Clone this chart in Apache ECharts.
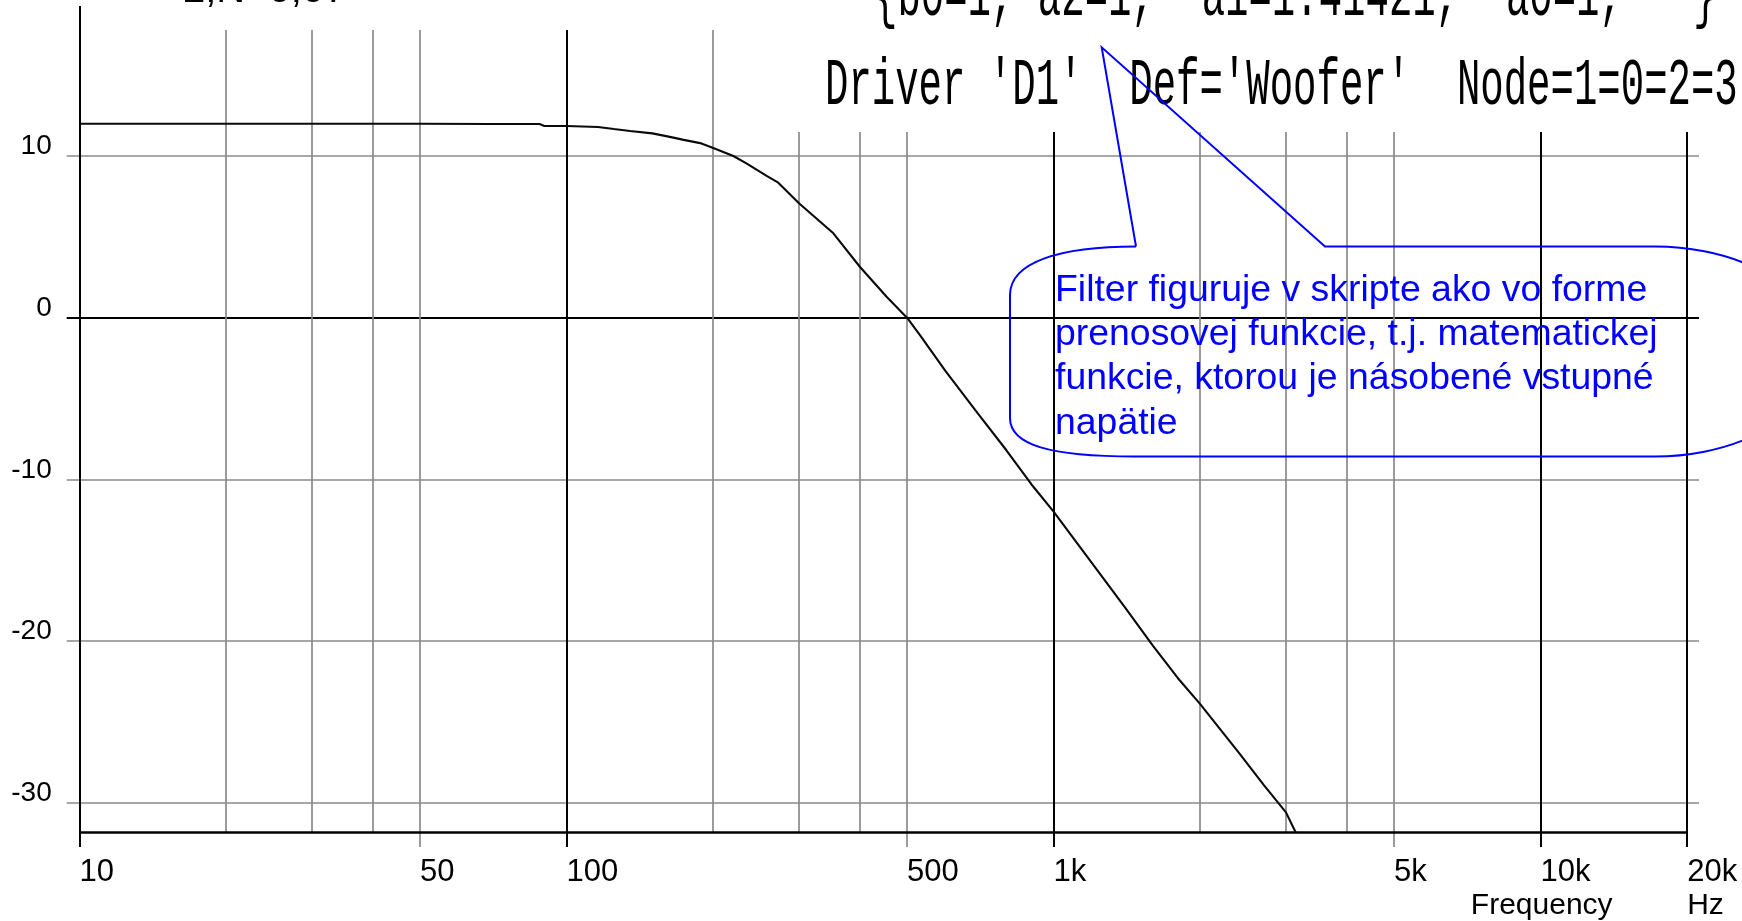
<!DOCTYPE html>
<html>
<head>
<meta charset="utf-8">
<script src="https://cdn.jsdelivr.net/npm/echarts@6/dist/echarts.min.js"></script>
<style>
  html, body { margin: 0; padding: 0; background: #ffffff; }
  #chart { width: 1742px; height: 921px; }
</style>
</head>
<body>
<div id="chart"></div>
<script>
// Woofer filter transfer function: gain (dB) against frequency (Hz)
const freqHz = [10, 20, 30, 50, 70, 88, 90, 100, 116, 125, 135, 150, 162, 174, 188, 200,
  220, 234, 258, 272, 300, 353, 400, 454, 500, 532, 600, 700, 800, 900, 1000, 1200,
  1400, 1600, 1800, 2000, 2400, 2700, 3000, 3140];
const gainDb = [12.0, 12.0, 12.0, 12.0, 11.98, 11.98, 11.86, 11.86, 11.8, 11.67, 11.55, 11.4, 11.2, 11.0, 10.8, 10.5,
  10.0, 9.55, 8.76, 8.35, 7.08, 5.22, 3.15, 1.3, 0.0, -1.1, -3.3, -5.95, -8.2, -10.3, -12.0, -15.2,
  -17.9, -20.3, -22.3, -23.9, -26.9, -28.9, -30.6, -31.83];

// Grid lines and tick labels
const minorGridHz = [20, 30, 40, 50, 200, 300, 400, 500, 2000, 3000, 4000, 5000];
const majorGridHz = [100, 1000, 10000, 20000];
const xTickHz = [10, 50, 100, 500, 1000, 5000, 10000, 20000];
const xTickLabels = ['10', '50', '100', '500', '1k', '5k', '10k', '20k'];
const yTickDb = [10, 0, -10, -20, -30];
const yTickLabels = ['10', '0', '-10', '-20', '-30'];

// Axis ranges (the x range leaves room for the grid lines that run past the frame)
const X_MIN = 9.408, X_MAX = 21146;
const Y_MIN = -32.74, Y_MAX = 19.28;
const GRID_TOP_DB = 17.79;   // upper end of the vertical grid lines
const FLOOR_DB = -31.83;     // bottom frame line

const GRAY = { color: '#8a8a8a', width: 1.7, type: 'solid' };
const BLACK = { color: '#000000', width: 2, type: 'solid' };
const SANS = "'Liberation Sans', Arial, sans-serif";

const X_LABEL = { show: true, position: 'end', distance: 25, align: 'left', verticalAlign: 'middle',
  color: '#000', fontFamily: SANS, fontSize: 31 };
const Y_LABEL = { show: true, position: 'start', distance: 15, align: 'right', verticalAlign: 'bottom',
  lineHeight: 19, color: '#000', fontFamily: SANS, fontSize: 28 };

const gridLines = [];

// horizontal level lines with their dB labels
yTickDb.forEach((v, i) => {
  gridLines.push([
    { coord: [X_MIN, v], lineStyle: v === 0 ? BLACK : GRAY,
      label: Object.assign({}, Y_LABEL, { formatter: yTickLabels[i] }) },
    { coord: [X_MAX, v] }
  ]);
});

// vertical frequency lines; labelled ones reach down past the frame as ticks
const addVertical = (f, style, top) => {
  const li = xTickHz.indexOf(f);
  const from = { coord: [f, top], lineStyle: style };
  if (li >= 0) from.label = Object.assign({}, X_LABEL, { formatter: xTickLabels[li] });
  gridLines.push([from, { coord: [f, li >= 0 ? Y_MIN : FLOOR_DB] }]);
};
minorGridHz.forEach(f => addVertical(f, GRAY, GRID_TOP_DB));
majorGridHz.forEach(f => addVertical(f, BLACK, GRID_TOP_DB));
// left frame (the dB axis)
addVertical(xTickHz[0], BLACK, Y_MAX);
// bottom frame
gridLines.push([
  { coord: [xTickHz[0], FLOOR_DB], lineStyle: { color: '#000', width: 2.6, type: 'solid' } },
  { coord: [majorGridHz[majorGridHz.length - 1], FLOOR_DB] }
]);

const chart = echarts.init(document.getElementById('chart'), null, { renderer: 'canvas' });

// callout bubble outline, built from curve and line pieces
const BLUE = { stroke: '#0000ff', lineWidth: 2, fill: 'none' };
const curve = (x1, y1, cpx1, cpy1, cpx2, cpy2, x2, y2) => ({
  type: 'bezierCurve', z: 70, silent: true,
  shape: { x1, y1, cpx1, cpy1, cpx2, cpy2, x2, y2 }, style: BLUE
});
const straight = (x1, y1, x2, y2) => ({
  type: 'line', z: 70, silent: true, shape: { x1, y1, x2, y2 }, style: BLUE
});
const bubble = [
  curve(1136, 246.5, 1060, 246.5, 1010, 262, 1010, 295),
  straight(1010, 295, 1010, 418),
  curve(1010, 418, 1010, 445, 1050, 456.5, 1135, 456.5),
  straight(1135, 456.5, 1655, 456.5),
  curve(1655, 456.5, 1720, 456.5, 1795, 430, 1795, 385),
  curve(1795, 320, 1795, 272, 1720, 246.5, 1655, 246.5),
  { type: 'polyline', z: 70, silent: true,
    shape: { points: [[1655, 246.5], [1325, 246.5], [1101.7, 47.3], [1136, 246.5]] }, style: BLUE }
];

chart.setOption({
  backgroundColor: '#ffffff',
  animation: false,
  grid: { left: 66.7, right: 43, top: 6, bottom: 74 },
  xAxis: {
    type: 'log', logBase: 10, min: X_MIN, max: X_MAX,
    axisLine: { show: false }, axisTick: { show: false },
    axisLabel: { show: false }, splitLine: { show: false }
  },
  yAxis: {
    type: 'value', min: Y_MIN, max: Y_MAX,
    axisLine: { show: false }, axisTick: { show: false },
    axisLabel: { show: false }, splitLine: { show: false }
  },
  series: [
    {
      name: 'grid',
      type: 'line',
      data: [],
      silent: true,
      z: 1,
      markLine: {
        z: 1,
        silent: true,
        animation: false,
        symbol: ['none', 'none'],
        label: { show: false },
        emphasis: { disabled: true },
        data: gridLines
      }
    },
    {
      name: 'Gain',
      type: 'line',
      z: 3,
      data: freqHz.map((f, i) => [f, gainDb[i]]),
      showSymbol: false,
      smooth: false,
      lineStyle: { color: '#0a0a0a', width: 2.1 }
    }
  ],
  graphic: [
    // clear band behind the netlist text
    { type: 'rect', z: 50, silent: true, shape: { x: 760, y: 0, width: 982, height: 132 },
      style: { fill: '#ffffff' } },
    { type: 'text', z: 60, x: 183, y: -9, silent: true,
      style: { text: '2,N+0,07', fill: '#000', font: "40px " + SANS,
        align: 'left', verticalAlign: 'middle' } },
    { type: 'text', z: 60, x: 874, y: -2.5, scaleY: 1.7, silent: true,
      style: { text: "{b0=1, a2=1,  a1=1.41421,  a0=1,   }", fill: '#000',
        font: "39px 'Liberation Mono', 'Courier New', monospace", align: 'left', verticalAlign: 'middle' } },
    { type: 'text', z: 60, x: 825, y: 86.5, scaleY: 1.7, silent: true,
      style: { text: "Driver 'D1'  Def='Woofer'  Node=1=0=2=3", fill: '#000',
        font: "39px 'Liberation Mono', 'Courier New', monospace", align: 'left', verticalAlign: 'middle' } },
    ...bubble,
    { type: 'text', z: 70, x: 1055, y: 268, silent: true,
      style: { text: 'Filter figuruje v skripte ako vo forme\nprenosovej funkcie, t.j. matematickej\nfunkcie, ktorou je násobené vstupné\nnapätie',
        fill: '#0000ff', font: "37.4px " + SANS, lineHeight: 44.4,
        align: 'left', verticalAlign: 'top' } },
    // axis caption
    { type: 'text', z: 60, x: 1541.7, y: 906, silent: true,
      style: { text: 'Frequency', fill: '#000', font: '30px ' + SANS, align: 'center', verticalAlign: 'middle' } },
    { type: 'text', z: 60, x: 1687.2, y: 906, silent: true,
      style: { text: 'Hz', fill: '#000', font: '30px ' + SANS, align: 'left', verticalAlign: 'middle' } }
  ]
});
</script>
</body>
</html>
